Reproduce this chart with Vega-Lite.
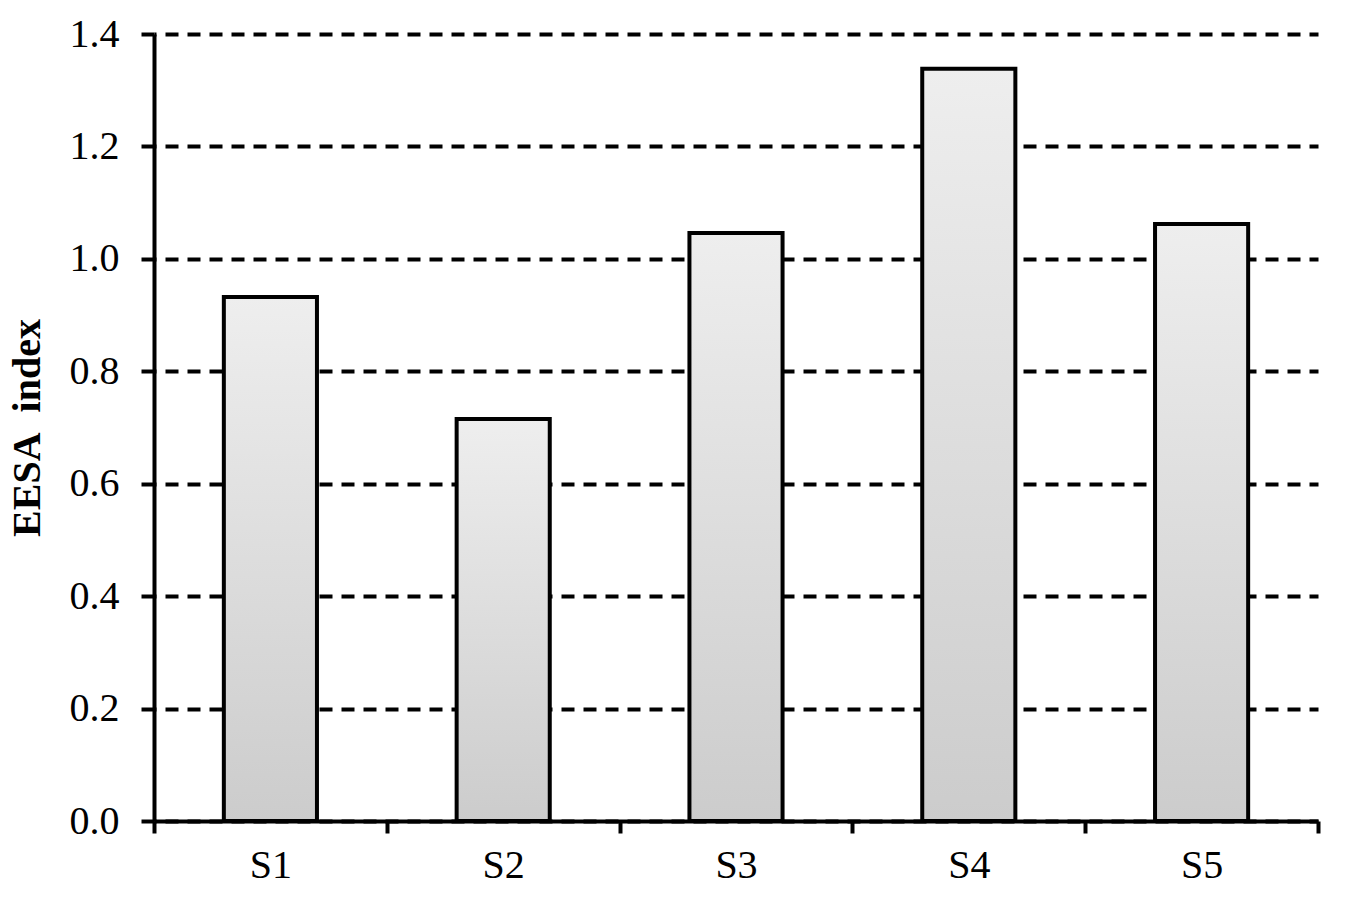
{
  "$schema": "https://vega.github.io/schema/vega-lite/v6.json",
  "autosize": "none",
  "width": 1164,
  "height": 787,
  "padding": {"left": 154, "top": 34, "right": 27, "bottom": 81},
  "background": "white",
  "config": {
    "view": {"stroke": null},
    "font": "Liberation Serif"
  },
  "data": {
    "values": [
      {"site": "S1", "value": 0.932},
      {"site": "S2", "value": 0.715},
      {"site": "S3", "value": 1.046},
      {"site": "S4", "value": 1.338},
      {"site": "S5", "value": 1.062}
    ]
  },
  "mark": {
    "type": "bar",
    "width": {"band": 0.4},
    "stroke": "black",
    "strokeWidth": 4,
    "color": {
      "gradient": "linear",
      "x1": 0, "y1": 0, "x2": 0, "y2": 1,
      "stops": [
        {"offset": 0, "color": "#eeeeee"},
        {"offset": 1, "color": "#cccccc"}
      ]
    }
  },
  "encoding": {
    "x": {
      "field": "site",
      "type": "nominal",
      "sort": null,
      "scale": {"paddingInner": 0, "paddingOuter": 0},
      "axis": {
        "title": null,
        "labelAngle": 0,
        "tickBand": "extent",
        "grid": false,
        "domainColor": "black",
        "domainWidth": 4,
        "tickColor": "black",
        "tickWidth": 4,
        "tickSize": 12,
        "labelFont": "Liberation Serif",
        "labelFontSize": 40,
        "labelColor": "black",
        "labelPadding": 12
      }
    },
    "y": {
      "field": "value",
      "type": "quantitative",
      "scale": {"domain": [0, 1.4], "nice": false},
      "axis": {
        "title": "EESA\u00a0\u00a0index",
        "titleFont": "Liberation Serif",
        "titleFontSize": 40,
        "titleFontWeight": "bold",
        "titleColor": "black",
        "titlePadding": 22,
        "values": [0, 0.2, 0.4, 0.6, 0.8, 1.0, 1.2, 1.4],
        "format": ".1f",
        "domainColor": "black",
        "domainWidth": 4,
        "tickColor": "black",
        "tickWidth": 4,
        "tickSize": 13,
        "labelFont": "Liberation Serif",
        "labelFontSize": 40,
        "labelColor": "black",
        "labelPadding": 22,
        "grid": true,
        "gridColor": "black",
        "gridWidth": 4,
        "gridDash": [13, 9],
        "gridDashOffset": 11,
        "gridOpacity": 1
      }
    }
  }
}
